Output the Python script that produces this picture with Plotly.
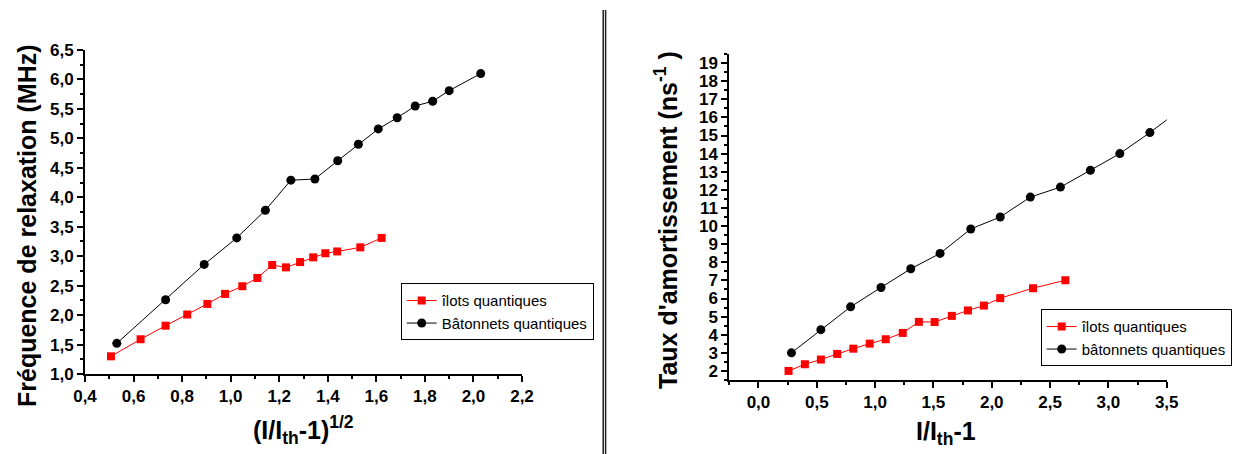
import plotly.graph_objects as go

# ---- Left panel: relaxation frequency vs (I/Ith-1)^1/2 ----
left_ilots_x = [0.507, 0.629, 0.732, 0.821, 0.904, 0.977, 1.048, 1.110, 1.171, 1.228,
                1.286, 1.340, 1.390, 1.439, 1.534, 1.622]
left_ilots_y = [1.30, 1.59, 1.82, 2.01, 2.19, 2.36, 2.49, 2.63, 2.85, 2.81,
                2.90, 2.98, 3.05, 3.08, 3.15, 3.31]
left_bat_x = [0.531, 0.732, 0.891, 1.025, 1.143, 1.248, 1.347, 1.441, 1.526, 1.608,
              1.686, 1.760, 1.832, 1.900, 2.030]
left_bat_y = [1.52, 2.26, 2.86, 3.31, 3.78, 4.29, 4.31, 4.62, 4.90, 5.16,
              5.35, 5.55, 5.63, 5.81, 6.10]

# ---- Right panel: damping rate vs I/Ith-1 ----
right_ilots_x = [0.258, 0.398, 0.535, 0.675, 0.813, 0.954, 1.091, 1.237, 1.375, 1.510,
                 1.658, 1.796, 1.933, 2.073, 2.354, 2.631]
right_ilots_y = [2.00, 2.37, 2.63, 2.94, 3.23, 3.51, 3.75, 4.10, 4.71, 4.70,
                 5.04, 5.34, 5.61, 6.02, 6.57, 7.01]
right_bat_x = [0.283, 0.535, 0.790, 1.051, 1.306, 1.557, 1.820, 2.073, 2.331, 2.589,
               2.846, 3.098, 3.356, 3.610]
right_bat_y = [3.00, 4.28, 5.54, 6.61, 7.64, 8.49, 9.84, 10.50, 11.60, 12.15,
               13.08, 14.00, 15.16, 16.40]

# ---- Tick values / labels ----
left_x_ticks = [0.4, 0.6, 0.8, 1.0, 1.2, 1.4, 1.6, 1.8, 2.0, 2.2]
left_x_labels = ["0,4", "0,6", "0,8", "1,0", "1,2", "1,4", "1,6", "1,8", "2,0", "2,2"]
left_y_ticks = [1.0, 1.5, 2.0, 2.5, 3.0, 3.5, 4.0, 4.5, 5.0, 5.5, 6.0, 6.5]
left_y_labels = ["1,0", "1,5", "2,0", "2,5", "3,0", "3,5", "4,0", "4,5", "5,0", "5,5", "6,0", "6,5"]
right_x_ticks = [0.0, 0.5, 1.0, 1.5, 2.0, 2.5, 3.0, 3.5]
right_x_labels = ["0,0", "0,5", "1,0", "1,5", "2,0", "2,5", "3,0", "3,5"]
right_y_ticks = list(range(2, 20))
right_y_labels = [str(v) for v in right_y_ticks]

series_names_left = ["îlots quantiques", "Bâtonnets quantiques"]
series_names_right = ["îlots quantiques", "bâtonnets quantiques"]

left_ytitle = "Fréquence de relaxation (MHz)"
left_xtitle = "(I/I<sub>th</sub>-1)<sup>1/2</sup>"
right_ytitle = "Taux d'amortissement (ns<sup>-1</sup> )"
right_xtitle = "I/I<sub>th</sub>-1"

W, H = 1248, 454
FONT = "Liberation Sans, Arial, sans-serif"
RED = "#ff0000"
BLACK = "#000000"

fig = go.Figure()

fig.add_trace(go.Scatter(x=left_ilots_x, y=left_ilots_y, mode="lines+markers",
                         name=series_names_left[0], xaxis="x", yaxis="y", legend="legend",
                         line=dict(color=RED, width=1),
                         marker=dict(symbol="square", size=8, color=RED)))
fig.add_trace(go.Scatter(x=left_bat_x, y=left_bat_y, mode="lines+markers",
                         name=series_names_left[1], xaxis="x", yaxis="y", legend="legend",
                         line=dict(color=BLACK, width=1),
                         marker=dict(symbol="circle", size=9, color=BLACK)))
fig.add_trace(go.Scatter(x=right_ilots_x, y=right_ilots_y, mode="lines+markers",
                         name=series_names_right[0], xaxis="x2", yaxis="y2", legend="legend2",
                         line=dict(color=RED, width=1),
                         marker=dict(symbol="square", size=8, color=RED)))
fig.add_trace(go.Scatter(x=right_bat_x, y=right_bat_y, mode="lines+markers",
                         name=series_names_right[1], xaxis="x2", yaxis="y2", legend="legend2",
                         line=dict(color=BLACK, width=1),
                         marker=dict(symbol="circle", size=9, color=BLACK)))

tickfont = dict(family=FONT, size=17, color="black", weight="bold")

def bold(labels):
    return ["<b>" + s + "</b>" for s in labels]

def axis_common(**kw):
    d = dict(showgrid=False, zeroline=False, showline=True, linecolor="black", linewidth=2,
             ticks="outside", ticklen=6, tickwidth=1.5, tickcolor="black",
             tickfont=tickfont, tickmode="array",
             mirror=False, fixedrange=True, automargin=False)
    d.update(kw)
    return d

fig.update_layout(
    width=W, height=H,
    margin=dict(l=0, r=0, t=0, b=0, pad=0),
    paper_bgcolor="white", plot_bgcolor="white",
    showlegend=True,
    xaxis=axis_common(domain=[85 / W, 522 / W], range=[0.4, 2.2],
                      tickvals=left_x_ticks, ticktext=bold(left_x_labels), anchor="y",
                      minor=dict(ticks="outside", ticklen=3, tickwidth=1.5, tickcolor="black",
                                 tickmode="linear", tick0=0.4, dtick=0.1)),
    yaxis=axis_common(domain=[1 - 374 / H, 1 - 50 / H], range=[1.0, 6.5],
                      tickvals=left_y_ticks, ticktext=bold(left_y_labels), anchor="x",
                      minor=dict(ticks="outside", ticklen=3, tickwidth=1.5, tickcolor="black",
                                 tickmode="linear", tick0=1.0, dtick=0.25)),
    xaxis2=axis_common(domain=[729.3 / W, 1166.7 / W], range=[-0.25, 3.5],
                       tickvals=right_x_ticks, ticktext=bold(right_x_labels), anchor="y2",
                       minor=dict(ticks="outside", ticklen=3, tickwidth=1.5, tickcolor="black",
                                  tickmode="linear", tick0=0.0, dtick=0.25)),
    yaxis2=axis_common(domain=[1 - 380 / H, 1 - 54 / H], range=[1.5, 19.5],
                       tickvals=right_y_ticks, ticktext=bold(right_y_labels), anchor="x2",
                       minor=dict(ticks="outside", ticklen=3, tickwidth=1.5, tickcolor="black",
                                  tickmode="linear", tick0=0, dtick=0.5)),
    legend=dict(x=400.7 / W, y=1 - 283.3 / H, xanchor="left", yanchor="top",
                bgcolor="white", bordercolor="black", borderwidth=1,
                font=dict(family=FONT, size=15, color="black"),
                itemwidth=30, tracegroupgap=0),
    legend2=dict(x=1040.7 / W, y=1 - 309.3 / H, xanchor="left", yanchor="top",
                 bgcolor="white", bordercolor="black", borderwidth=1,
                 font=dict(family=FONT, size=15, color="black"),
                 itemwidth=30, tracegroupgap=0),
)

titlefont = dict(family=FONT, size=25, color="black", weight="bold")
fig.add_annotation(text=left_ytitle, x=27 / W, y=1 - 226 / H, xref="paper", yref="paper",
                   textangle=-90, showarrow=False, font=titlefont,
                   xanchor="center", yanchor="middle")
fig.add_annotation(text=left_xtitle, x=303 / W, y=1 - 430 / H, xref="paper", yref="paper",
                   showarrow=False, font=titlefont, xanchor="center", yanchor="middle")
fig.add_annotation(text=right_ytitle, x=666 / W, y=1 - 220 / H, xref="paper", yref="paper",
                   textangle=-90, showarrow=False, font=titlefont,
                   xanchor="center", yanchor="middle")
fig.add_annotation(text=right_xtitle, x=946 / W, y=1 - 433 / H, xref="paper", yref="paper",
                   showarrow=False, font=titlefont, xanchor="center", yanchor="middle")

# double vertical divider between the two panels
fig.add_shape(type="line", xref="paper", yref="paper", x0=603.2 / W, x1=603.2 / W,
              y0=0, y1=1 - 10 / H, line=dict(color="#222222", width=1.5))
fig.add_shape(type="line", xref="paper", yref="paper", x0=605.6 / W, x1=605.6 / W,
              y0=0, y1=1 - 10 / H, line=dict(color="#222222", width=1.5))

fig.write_html(
    "out.html",
    config={"displayModeBar": False},
    post_script="document.body.style.margin='0';document.body.style.padding='0';"
                "document.body.style.overflow='hidden';"
                "document.documentElement.style.overflow='hidden';",
)
